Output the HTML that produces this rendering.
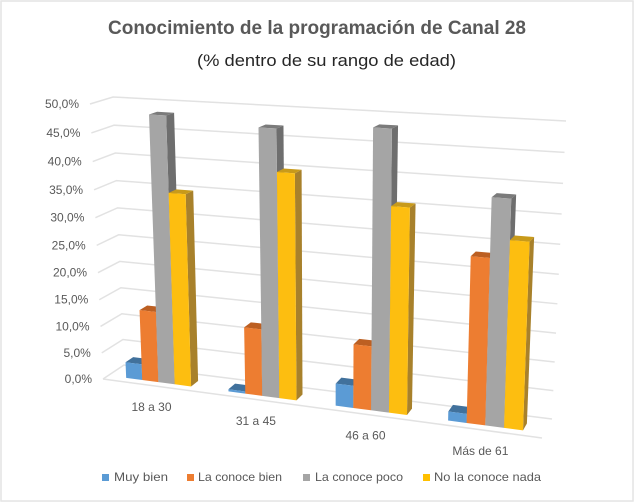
<!DOCTYPE html>
<html lang="es">
<head>
<meta charset="utf-8">
<title>Conocimiento de la programación de Canal 28</title>
<style>
html,body{margin:0;padding:0;background:#fff;}
svg{display:block;font-family:"Liberation Sans",sans-serif;}
</style>
</head>
<body>
<svg id="chart" width="634" height="502" viewBox="0 0 634 502" xmlns="http://www.w3.org/2000/svg">
  <rect x="1" y="1" width="632" height="500" fill="#ffffff" stroke="#e4e4e4" stroke-width="1.5"/>
  <text x="317" y="34" text-anchor="middle" font-size="19" font-weight="bold" fill="#595959" textLength="418" lengthAdjust="spacingAndGlyphs">Conocimiento de la programación de Canal 28</text>
  <text x="326.500" y="66" text-anchor="middle" font-size="17" fill="#262626" textLength="259" lengthAdjust="spacingAndGlyphs">(% dentro de su rango de edad)</text>
  <g id="grid"></g>
  <g id="ylabels"></g>
  <g id="bars"></g>
  <g id="xlabels"></g>
  <g font-size="12" fill="#595959">
    <rect x="102" y="474" width="7" height="7" fill="#5b9bd5"/>
    <text x="114" y="481" textLength="54" lengthAdjust="spacingAndGlyphs">Muy bien</text>
    <rect x="187" y="474" width="7" height="7" fill="#ed7d31"/>
    <text x="198" y="481" textLength="84" lengthAdjust="spacingAndGlyphs">La conoce bien</text>
    <rect x="303" y="474" width="7" height="7" fill="#a5a5a5"/>
    <text x="315" y="481" textLength="88" lengthAdjust="spacingAndGlyphs">La conoce poco</text>
    <rect x="423" y="474" width="7" height="7" fill="#ffc000"/>
    <text x="434" y="481" textLength="107" lengthAdjust="spacingAndGlyphs">No la conoce nada</text>
  </g>
</svg>
<script>
const categories = ["18 a 30", "31 a 45", "46 a 60", "Más de 61"];
const muyBien = [3.0, 0.4, 4.0, 1.6];
const conoceBien = [13.2, 12.2, 11.4, 28.5];
const conocePoco = [48.4, 47.3, 48.4, 38.4];
const noConoceNada = [35.0, 40.0, 35.7, 31.7];
const tickValues = [0, 5, 10, 15, 20, 25, 30, 35, 40, 45, 50];
const tickLabels = ["0,0%", "5,0%", "10,0%", "15,0%", "20,0%", "25,0%", "30,0%", "35,0%", "40,0%", "45,0%", "50,0%"];

const axisMax = 50;
const NS = "http://www.w3.org/2000/svg";
const floorCorners = { fl: [103, 379], fr: [542, 438], bl: [124, 365], br: [552, 419] };
const topCorners = { fl: [90, 104], fr: [553, 130], bl: [113, 97], br: [566, 121] };
const seriesStyles = [
  { name: "muy-bien", front: "#5b9bd5", top: "#41719c", side: "#41719c" },
  { name: "la-conoce-bien", front: "#ed7d31", top: "#bc5f22", side: "#ae5a21" },
  { name: "la-conoce-poco", front: "#a5a5a5", top: "#7b7b7b", side: "#6e6e6e" },
  { name: "no-la-conoce-nada", front: "#fdbe10", top: "#c89a1a", side: "#a8812b" }
];

function warp(u) {
  const k = 1.1;
  return u / (k - (k - 1) * u);
}
function warpValue(w) {
  const k = 1.058;
  return w / (k - (k - 1) * w);
}
function mix(a, b, t) {
  return [a[0] + (b[0] - a[0]) * t, a[1] + (b[1] - a[1]) * t];
}
function project(u, value, z) {
  const s = warp(u);
  const bottom = mix(mix(floorCorners.fl, floorCorners.fr, s), mix(floorCorners.bl, floorCorners.br, s), z);
  const top = mix(mix(topCorners.fl, topCorners.fr, s), mix(topCorners.bl, topCorners.br, s), z);
  return mix(bottom, top, warpValue(value / axisMax));
}
function pts(list) {
  return list.map(function (p) { return p[0].toFixed(2) + "," + p[1].toFixed(2); }).join(" ");
}

const grid = document.getElementById("grid");
const ylabels = document.getElementById("ylabels");
tickValues.forEach(function (v, i) {
  const line = document.createElementNS(NS, "polyline");
  
  
  line.setAttribute("points", pts([project(0, v, 0), project(0, v, 1), project(1, v, 1)]));
  line.setAttribute("fill", "none");
  line.setAttribute("stroke", "#e2e2e2");
  line.setAttribute("stroke-width", "1.5");
  grid.appendChild(line);

  const front = project(0, v, 0);
  const label = document.createElementNS(NS, "text");
  
  
  label.setAttribute("x", (front[0] - 11).toFixed(1));
  label.setAttribute("y", (front[1] + 4).toFixed(1));
  label.setAttribute("text-anchor", "end");
  label.setAttribute("font-size", "12");
  label.setAttribute("fill", "#595959");
  label.textContent = tickLabels[i];
  ylabels.appendChild(label);
});

const frontEdge = document.createElementNS(NS, "line");


frontEdge.setAttribute("x1", floorCorners.fl[0]);
frontEdge.setAttribute("y1", floorCorners.fl[1]);
frontEdge.setAttribute("x2", floorCorners.fr[0]);
frontEdge.setAttribute("y2", floorCorners.fr[1]);
frontEdge.setAttribute("stroke", "#e2e2e2");
frontEdge.setAttribute("stroke-width", "1.5");
grid.appendChild(frontEdge);

const barsGroup = document.getElementById("bars");
const allSeries = [muyBien, conoceBien, conocePoco, noConoceNada];
const barWidth = 0.04;
const zFront = 0.25;
const zBack = 0.62;

function addFace(parent, faceName, points, fill) {
  const face = document.createElementNS(NS, "polygon");
  
  
  face.setAttribute("points", pts(points));
  face.setAttribute("fill", fill);
  parent.appendChild(face);
}

categories.forEach(function (category, c) {
  const centre = (c + 0.5) / categories.length;
  allSeries.forEach(function (series, i) {
    const value = series[c];
    const style = seriesStyles[i];
    const l = centre - 2 * barWidth + i * barWidth;
    const r = l + barWidth;
    const bar = document.createElementNS(NS, "g");
    
    
    addFace(bar, "bar-side", [project(r, 0, zFront), project(r, value, zFront), project(r, value, zBack), project(r, 0, zBack)], style.side);
    addFace(bar, "bar-top", [project(l, value, zFront), project(r, value, zFront), project(r, value, zBack), project(l, value, zBack)], style.top);
    addFace(bar, "bar-front", [project(l, 0, zFront), project(r, 0, zFront), project(r, value, zFront), project(l, value, zFront)], style.front);
    barsGroup.appendChild(bar);
  });

  const anchor = project(centre, 0, 0);
  const label = document.createElementNS(NS, "text");
  
  
  label.setAttribute("x", (anchor[0] - 2).toFixed(1));
  label.setAttribute("y", (anchor[1] + 25).toFixed(1));
  label.setAttribute("text-anchor", "middle");
  label.setAttribute("font-size", "12");
  label.setAttribute("fill", "#595959");
  label.textContent = category;
  document.getElementById("xlabels").appendChild(label);
});
</script>
</body>
</html>
